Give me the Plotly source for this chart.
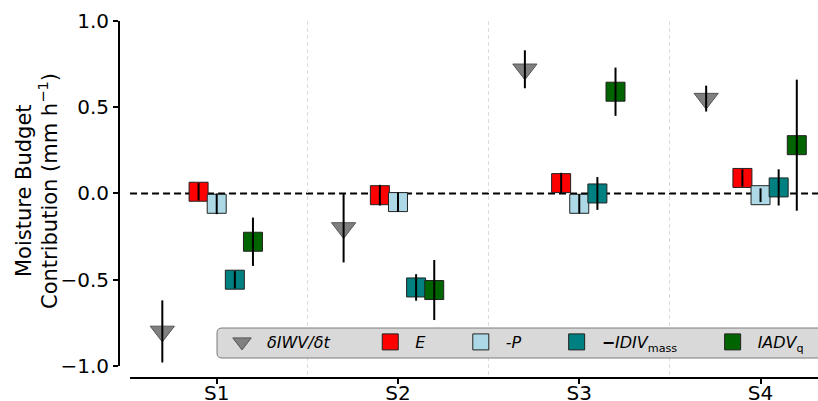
import plotly.graph_objects as go

# ---- data -------------------------------------------------------------
categories = ["S1", "S2", "S3", "S4"]

diwv_dt = [-0.80, -0.20, 0.72, 0.55]
diwv_dt_err = [0.18, 0.20, 0.11, 0.075]

evap = [0.01, -0.01, 0.06, 0.09]
evap_err = [0.05, 0.06, 0.06, 0.05]

neg_precip = [-0.06, -0.05, -0.06, -0.01]
neg_precip_err = [0.06, 0.055, 0.055, 0.04]

neg_idiv_mass = [-0.50, -0.545, 0.0, 0.035]
neg_idiv_mass_err = [0.05, 0.077, 0.095, 0.105]

iadv_q = [-0.28, -0.56, 0.59, 0.28]
iadv_q_err = [0.14, 0.174, 0.14, 0.38]

y_ticks = [-1.0, -0.5, 0.0, 0.5, 1.0]

# ---- styling ----------------------------------------------------------
NBSP = "\u00a0"
series = [
    dict(name="<i>δIWV/δt</i>" + NBSP * 6, y=diwv_dt, err=diwv_dt_err,
         offset=-0.3, symbol="triangle-down", size=21, color="#808080",
         edge="#555555"),
    dict(name="<i>E</i>" + NBSP * 5, y=evap, err=evap_err,
         offset=-0.1, symbol="square", size=19, color="#ff0000", edge="#222222"),
    dict(name="<i>-P</i>" + NBSP * 5, y=neg_precip, err=neg_precip_err,
         offset=0.0, symbol="square", size=19, color="#add8e6", edge="#222222"),
    dict(name="<b>−</b><i>IDIV</i><sub>mass</sub>" + NBSP * 5, y=neg_idiv_mass,
         err=neg_idiv_mass_err, offset=0.1, symbol="square", size=19,
         color="#008080", edge="#222222"),
    dict(name="<i>IADV</i><sub>q</sub>", y=iadv_q, err=iadv_q_err,
         offset=0.2, symbol="square", size=19, color="#006400", edge="#222222"),
]

W, H = 818, 401
L, R, T, B = 119, 0, 21, 23
X_RANGE = [-0.539, 3.317]
Y_RANGE = [-1.07, 1.0]
X_SPINE_START = -0.478

fig = go.Figure()
positions = list(range(len(categories)))

for s in series:
    xs = [p + s["offset"] for p in positions]
    # marker layer
    fig.add_trace(go.Scatter(
        x=xs, y=s["y"], mode="markers", name=s["name"],
        marker=dict(symbol=s["symbol"], size=s["size"], color=s["color"],
                    line=dict(color=s["edge"], width=1)),
        hoverinfo="skip",
    ))
    # error bars drawn on top of the markers
    fig.add_trace(go.Scatter(
        x=xs, y=s["y"], mode="markers", showlegend=False,
        marker=dict(size=1, opacity=0),
        error_y=dict(type="data", array=s["err"], visible=True,
                     color="black", thickness=2, width=0),
        hoverinfo="skip",
    ))

plot_w = W - L - R
plot_h = H - T - B


def px_x(px):
    return (px - L) / plot_w


def px_y(py):
    return (H - B - py) / plot_h


# rounded legend frame
x0, x1 = px_x(217), px_x(840)
y0, y1 = px_y(358), px_y(328)
rx, ry = 5 / plot_w, 5 / plot_h
frame = (f"M{x0+rx},{y1} L{x1-rx},{y1} Q{x1},{y1} {x1},{y1-ry} "
         f"L{x1},{y0+ry} Q{x1},{y0} {x1-rx},{y0} L{x0+rx},{y0} "
         f"Q{x0},{y0} {x0},{y0+ry} L{x0},{y1-ry} Q{x0},{y1} {x0+rx},{y1} Z")

shapes = [
    # zero reference line
    dict(type="line", xref="x", yref="y", x0=X_SPINE_START, x1=X_RANGE[1],
         y0=0, y1=0, line=dict(color="black", width=2, dash="7px,4px"),
         layer="below"),
    # left spine, trimmed to the tick range
    dict(type="line", xref="paper", yref="y", x0=0, x1=0,
         y0=y_ticks[0], y1=y_ticks[-1], line=dict(color="black", width=2)),
    # bottom spine
    dict(type="line", xref="x", yref="paper", x0=X_SPINE_START, x1=X_RANGE[1],
         y0=0, y1=0, line=dict(color="black", width=2)),
    dict(type="path", xref="paper", yref="paper", path=frame,
         fillcolor="#d9d9d9", line=dict(color="#7a7a7a", width=1),
         layer="above"),
]

title_lines = ["Moisture Budget", "Contribution (mm h<sup>−1</sup>)"]
title_x_px = [24, 48]

fig.update_layout(
    width=W, height=H,
    margin=dict(l=L, r=R, t=T, b=B, pad=0, autoexpand=False),
    paper_bgcolor="white", plot_bgcolor="white",
    font=dict(family="DejaVu Sans", size=20, color="black"),
    shapes=shapes,
    showlegend=True,
    legend=dict(orientation="h", x=px_x(217), y=px_y(342),
                xanchor="left", yanchor="middle",
                bgcolor="rgba(0,0,0,0)", borderwidth=0,
                font=dict(size=16, family="DejaVu Sans"),
                itemwidth=40),
    annotations=[dict(
        text=line, xref="paper", yref="paper", x=px_x(xp), y=px_y(191),
        xanchor="center", yanchor="middle", textangle=-90,
        showarrow=False, font=dict(size=21),
    ) for line, xp in zip(title_lines, title_x_px)],
)

fig.update_xaxes(
    range=X_RANGE, tickmode="array", tickvals=positions, ticktext=categories,
    showline=False, zeroline=False, showgrid=False,
    ticks="outside", ticklen=5, tickwidth=2, tickcolor="black",
    ticklabelstandoff=-8,
    minor=dict(tickmode="array", tickvals=[0.5, 1.5, 2.5], showgrid=True,
               gridcolor="#dddddd", gridwidth=1, griddash="4px,3px",
               ticks=""),
)
fig.update_yaxes(
    range=Y_RANGE, tickmode="array", tickvals=y_ticks, tickformat=".1f",
    showline=False, zeroline=False, showgrid=False,
    ticks="outside", ticklen=5, tickwidth=2, tickcolor="black",
)

fig.write_html("out.html")
